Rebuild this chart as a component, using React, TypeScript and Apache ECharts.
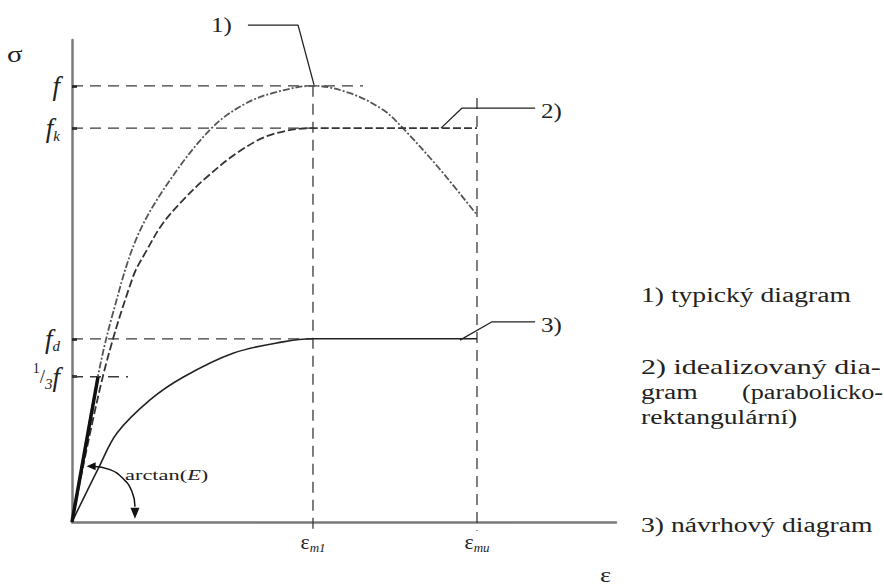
import React, { useEffect, useRef } from "react";
import * as echarts from "echarts";

const SERIF = '"Liberation Serif", "Times New Roman", serif';

// strain marks on the x axis (εm1, εmu) and their labels
const strainMarks = [2.082, 3.499];
const strainLabels = ["{e|ε}{s|m1}", "{e|ε}{s|mu}"];

// stress marks on the y axis (f, fk, fd, 1/3 f) and their labels
const stressMarks = [1.0, 0.903, 0.42, 0.333];
const stressLabels = ["{i|f}", "{i|f}{s|k}", "{i|f}{s|d}", "{p|1}{n|/}{s|3}{i|f}"];

// 1) typical diagram
const typicalCurve = [
  [0, 0], [0.225, 0.335], [0.354, 0.479], [0.562, 0.653], [0.847, 0.784],
  [1.218, 0.906], [1.512, 0.961], [1.771, 0.986], [2.082, 1.0],
  [2.402, 0.983], [2.687, 0.945], [2.851, 0.905], [3.171, 0.811], [3.499, 0.704],
];

// 2) idealized (parabola-rectangle) diagram
const idealCurve = [
  [0, 0], [0.268, 0.335], [0.527, 0.562], [0.648, 0.624], [0.786, 0.685],
  [0.959, 0.738], [1.166, 0.791], [1.426, 0.846], [1.711, 0.887], [2.082, 0.903],
  [3.499, 0.903],
];

// 3) design diagram
const designCurve = [
  [0, 0], [0.233, 0.126], [0.389, 0.204], [0.674, 0.28], [0.959, 0.332],
  [1.391, 0.387], [1.823, 0.413], [2.082, 0.42], [3.499, 0.42],
];

// secant modulus up to 1/3 f
const secantLine = [[0, 0], [0.225, 0.333]];

// dashed reference lines
const refLines = [
  [[0, 1.0], [2.514, 1.0]],
  [[0, 0.903], [2.082, 0.903]],
  [[0, 0.42], [2.082, 0.42]],
  [[0, 0.333], [0.484, 0.333]],
  [[2.082, 1.0], [2.082, -0.02]],
  [[3.499, 0.972], [3.499, -0.02]],
];

// leader lines to labels 1) 2) 3)
const leaders = [
  [[1.52, 1.139], [1.953, 1.139], [2.091, 1.002]],
  [[3.188, 0.903], [3.37, 0.949], [4.001, 0.949]],
  [[3.352, 0.417], [3.629, 0.459], [4.001, 0.459]],
];

// arctan(E) arc
const angleArc = [[0.18, 0.128], [0.328, 0.12], [0.44, 0.1], [0.518, 0.07], [0.544, 0.035]];

const findIdx = (arr: number[], v: number) => arr.findIndex((m) => Math.abs(m - v) < 1e-6);

export default function App() {
  const ref = useRef<HTMLDivElement>(null);

  useEffect(() => {
    if (!ref.current) return;
    const chart = echarts.init(ref.current, null, { renderer: "svg" });

    const lineBase = { type: "line", symbol: "none", clip: false, silent: true, z: 3 };

    const series: any[] = [];
    refLines.forEach((d) =>
      series.push({ ...lineBase, data: d, lineStyle: { color: "#3a3a3a", width: 1.3, type: [11, 7] }, z: 2 })
    );
    series.push({ ...lineBase, name: "1) typický diagram", data: typicalCurve, smooth: 0.35,
      lineStyle: { color: "#555", width: 1.8, type: [7, 2, 2, 2] } });
    series.push({ ...lineBase, name: "2) idealizovaný diagram", data: idealCurve, smooth: 0.35,
      lineStyle: { color: "#333", width: 1.8, type: [8, 3] } });
    series.push({ ...lineBase, name: "3) návrhový diagram", data: designCurve, smooth: 0.35,
      lineStyle: { color: "#222", width: 1.6 } });
    series.push({ ...lineBase, data: secantLine, lineStyle: { color: "#111", width: 3.5 } });
    leaders.forEach((d) =>
      series.push({ ...lineBase, data: d, lineStyle: { color: "#222", width: 1.3 } })
    );
    series.push({
      ...lineBase, data: angleArc, smooth: 0.5, lineStyle: { color: "#111", width: 1.5 },
      markPoint: {
        silent: true,
        label: { show: false },
        data: [
          { coord: [0.544, 0.02], symbol: "triangle", symbolSize: [9, 11], symbolRotate: 180, itemStyle: { color: "#111" } },
          { coord: [0.165, 0.128], symbol: "triangle", symbolSize: [8, 9], symbolRotate: 90, itemStyle: { color: "#111" } },
        ],
      },
    });

    const textEl = (text: string, x: number, y: number, size: number, scaleX: number, align = "left") => ({
      type: "text", x, y, scaleX, silent: true, z: 10,
      style: { text, fontFamily: SERIF, fontSize: size, fill: "#222", align, verticalAlign: "middle" },
    });

    const option: any = {
      animation: false,
      backgroundColor: "#fff",
      grid: { left: 72, top: 40, width: 544, height: 482, containLabel: false },
      xAxis: {
        type: "value", min: 0, max: 4.7,
        axisLine: { show: true, lineStyle: { color: "#7a7a7a", width: 2.5 } },
        axisTick: { show: false },
        splitLine: { show: false },
        axisLabel: {
          customValues: strainMarks,
          margin: 6,
          formatter: (v: number) => { const i = findIdx(strainMarks, v); return i >= 0 ? strainLabels[i] : ""; },
          rich: {
            e: { fontFamily: SERIF, fontSize: 22, color: "#222", lineHeight: 26 },
            s: { fontFamily: SERIF, fontSize: 13, fontStyle: "italic", color: "#222", verticalAlign: "bottom", lineHeight: 22 },
          },
        },
      },
      yAxis: {
        type: "value", min: 0, max: 1.105,
        axisLine: { show: true, lineStyle: { color: "#7a7a7a", width: 2.5 } },
        axisTick: { show: true, customValues: stressMarks, inside: true, length: 5, lineStyle: { color: "#111", width: 2.5 } },
        splitLine: { show: false },
        axisLabel: {
          customValues: stressMarks,
          margin: 12,
          formatter: (v: number) => { const i = findIdx(stressMarks, v); return i >= 0 ? stressLabels[i] : ""; },
          rich: {
            i: { fontFamily: SERIF, fontSize: 27, fontStyle: "italic", color: "#222", lineHeight: 30 },
            s: { fontFamily: SERIF, fontSize: 15, fontStyle: "italic", color: "#222", verticalAlign: "bottom", lineHeight: 24 },
            p: { fontFamily: SERIF, fontSize: 14, color: "#222", verticalAlign: "top", lineHeight: 30 },
            n: { fontFamily: SERIF, fontSize: 19, color: "#222", lineHeight: 30 },
          },
        },
      },
      series,
      graphic: [
        textEl("σ", 7, 54, 24, 1.2),
        textEl("ε", 600, 574, 22, 1.2),
        textEl("1)", 211, 25, 20, 1.25),
        textEl("2)", 541, 111, 20, 1.25),
        textEl("3)", 541, 325, 20, 1.25),
        {
          type: "text", x: 125, y: 475, scaleX: 1.6, silent: true, z: 10,
          style: {
            text: "{n|arctan(}{i|E}{n|)}", fontFamily: SERIF, fontSize: 14, fill: "#222",
            align: "left", verticalAlign: "middle",
            rich: {
              n: { fontFamily: SERIF, fontSize: 14, fill: "#222" },
              i: { fontFamily: SERIF, fontSize: 14, fontStyle: "italic", fill: "#222" },
            },
          },
        },
        textEl("1) typický diagram", 641, 295, 20, 1.38),
        textEl("2) idealizovaný dia-", 641, 367, 20, 1.5),
        textEl("gram", 641, 392, 20, 1.38),
        textEl("(parabolicko-", 883, 392, 20, 1.31, "right"),
        textEl("rektangulární)", 641, 417, 20, 1.38),
        textEl("3) návrhový diagram", 641, 525, 20, 1.38),
      ],
    };

    chart.setOption(option);
    return () => chart.dispose();
  }, []);

  return (
    <div
      ref={ref}
      style={{ position: "absolute", left: 0, top: 0, width: 884, height: 587, background: "#fff" }}
    />
  );
}
